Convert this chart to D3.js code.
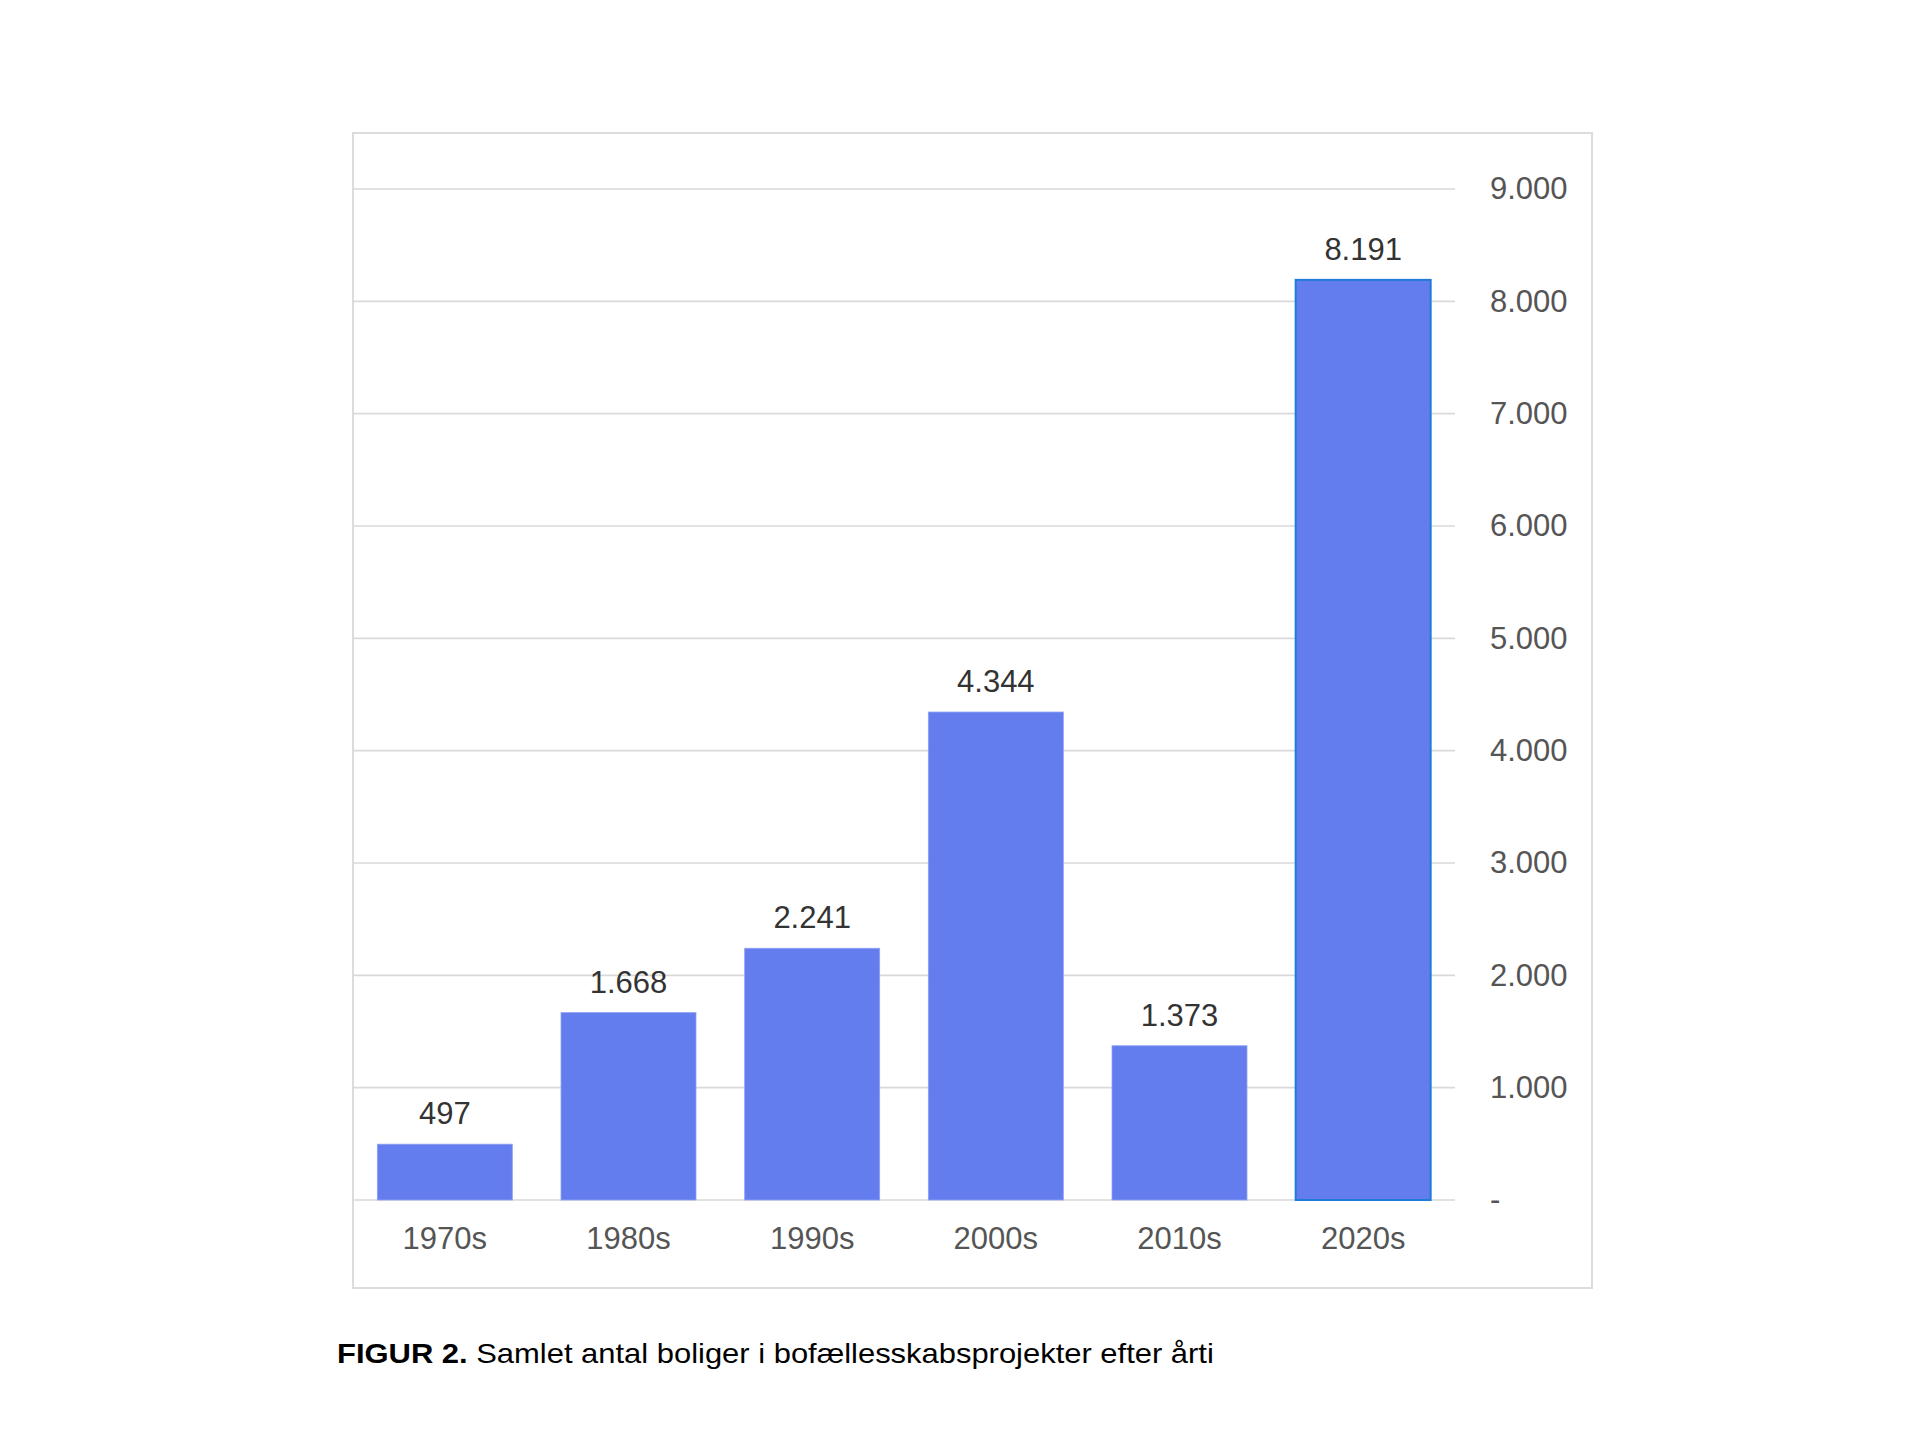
<!DOCTYPE html>
<html>
<head>
<meta charset="utf-8">
<script src="https://cdn.jsdelivr.net/npm/d3@7"></script>
<style>
  html, body { margin: 0; padding: 0; background: #ffffff; }
  svg { display: block; }
</style>
</head>
<body>
<svg id="chart" width="1920" height="1440"></svg>
<script>
// ---- data ----
const categories = ["1970s", "1980s", "1990s", "2000s", "2010s", "2020s"];
const values = [497, 1668, 2241, 4344, 1373, 8191];
const yTicks = [0, 1000, 2000, 3000, 4000, 5000, 6000, 7000, 8000, 9000];
const captionBold = "FIGUR 2.";
const captionText = " Samlet antal boliger i bofællesskabsprojekter efter årti";

const daDK = d3.formatLocale({ decimal: ",", thousands: ".", grouping: [3], currency: ["", " kr."] });
const fmt = daDK.format(",d");
const tickFmt = v => v === 0 ? "-" : fmt(v);

const svg = d3.select("#chart");
const font = "'Liberation Sans', Arial, Helvetica, sans-serif";

// frame
svg.append("rect")
  .attr("x", 353).attr("y", 133)
  .attr("width", 1592 - 353).attr("height", 1288 - 133)
  .attr("fill", "#ffffff").attr("stroke", "#dcdcdc").attr("stroke-width", 2);

const x = d3.scaleBand().domain(categories).range([353, 1455]).paddingInner(0.265).paddingOuter(0.1325);
const y = d3.scaleLinear().domain([0, 9000]).range([1200, 189]);

// gridlines
svg.append("g").selectAll("line").data(yTicks).join("line")
  .attr("x1", 353).attr("x2", 1455)
  .attr("y1", d => y(d)).attr("y2", d => y(d))
  .attr("stroke", "#d9d9d9").attr("stroke-width", 1.6);

// bars
svg.append("g").selectAll("rect").data(values).join("rect")
  .attr("x", (d, i) => x(categories[i]))
  .attr("y", d => y(d))
  .attr("width", x.bandwidth())
  .attr("height", d => y(0) - y(d))
  .attr("fill", "#647dee")
  .attr("stroke", (d, i) => i === values.length - 1 ? "#1f7bd8" : "#8fa0f2")
  .attr("stroke-width", (d, i) => i === values.length - 1 ? 2 : 0.8);

// value labels
svg.append("g").selectAll("text").data(values).join("text")
  .attr("x", (d, i) => x(categories[i]) + x.bandwidth() / 2)
  .attr("y", d => y(d) - 20)
  .attr("text-anchor", "middle")
  .attr("font-family", font).attr("font-size", 31)
  .attr("fill", "#333333")
  .text(d => fmt(d));

// right axis
const yAxis = svg.append("g")
  .attr("transform", "translate(1455,0)")
  .call(d3.axisRight(y).tickValues(yTicks).tickFormat(tickFmt).tickSize(0).tickPadding(35));
yAxis.select(".domain").remove();
yAxis.selectAll("text").attr("font-family", font).attr("font-size", 31).attr("fill", "#555555");

// bottom axis
const xAxis = svg.append("g")
  .attr("transform", "translate(0,1200)")
  .call(d3.axisBottom(x).tickSize(0).tickPadding(27));
xAxis.select(".domain").remove();
xAxis.selectAll("text").attr("font-family", font).attr("font-size", 31).attr("fill", "#555555");

// caption (slightly horizontally stretched like the reference typeface)
const cap = svg.append("text")
  .attr("transform", "translate(337,1363) scale(1.105,1)")
  .attr("x", 0).attr("y", 0)
  .attr("font-family", font).attr("font-size", 28).attr("fill", "#000000");
cap.append("tspan").attr("font-weight", "bold").text(captionBold);
cap.append("tspan").text(captionText);
</script>
</body>
</html>
